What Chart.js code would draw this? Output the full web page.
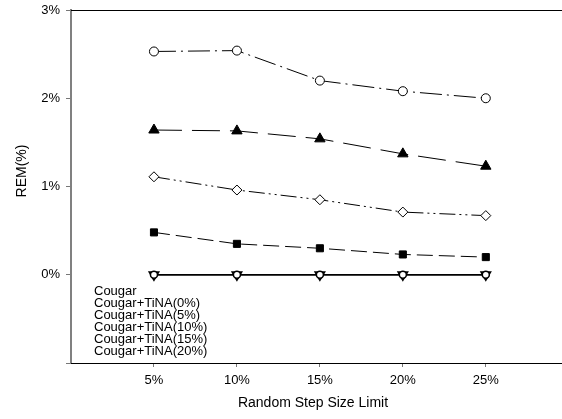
<!DOCTYPE html>
<html>
<head>
<meta charset="utf-8">
<script src="https://cdn.jsdelivr.net/npm/chart.js@4.4.0/dist/chart.umd.min.js"></script>
<style>
  html, body { margin: 0; padding: 0; background: #fff; }
  #wrap { width: 562px; height: 419px; }
</style>
</head>
<body>
<div id="wrap"><canvas id="rem-chart" width="562" height="419"></canvas></div>
<script>
// step size limits (%) and REM (%) per method
const stepLimits = [5, 10, 15, 20, 25];
const xTicks = [5, 10, 15, 20, 25];
const yTicks = [0, 1, 2, 3];

const remCougar = [0, 0, 0, 0, 0];
const remTina0 = [0, 0, 0, 0, 0];
const remTina5 = [0.48, 0.35, 0.30, 0.23, 0.20];
const remTina10 = [1.11, 0.96, 0.85, 0.71, 0.67];
const remTina15 = [1.64, 1.63, 1.54, 1.37, 1.23];
const remTina20 = [2.53, 2.54, 2.20, 2.08, 2.00];

const seriesNames = ['Cougar', 'Cougar+TiNA(0%)', 'Cougar+TiNA(5%)',
                     'Cougar+TiNA(10%)', 'Cougar+TiNA(15%)', 'Cougar+TiNA(20%)'];
const yTitle = 'REM(%)';

const FONT = "'Liberation Sans', Arial, sans-serif";

function toPoints(values) {
    return values.map((v, i) => ({ x: stepLimits[i], y: v }));
}

function series(label, values, style) {
    return Object.assign({
        label: label,
        data: toPoints(values),
        borderColor: '#000',
        borderWidth: 1,
        pointBorderColor: '#000',
        pointBorderWidth: 1,
        pointBackgroundColor: '#fff',
        tension: 0,
        fill: false,
        clip: false
    }, style);
}

// frame lines along the top and bottom, running out to the right edge
const frameLines = {
    id: 'frameLines',
    afterDraw(chart) {
        const { ctx, chartArea } = chart;
        const yTop = chart.scales.y.getPixelForValue(3);
        const yBottom = chart.scales.y.getPixelForValue(-1);
        ctx.save();
        ctx.strokeStyle = '#000';
        ctx.lineWidth = 1;
        ctx.beginPath();
        ctx.moveTo(chartArea.left, Math.round(yTop) + 0.5);
        ctx.lineTo(chart.width, Math.round(yTop) + 0.5);
        ctx.moveTo(chartArea.left, Math.round(yBottom) + 0.5);
        ctx.lineTo(chart.width, Math.round(yBottom) + 0.5);
        ctx.stroke();
        ctx.restore();
    }
};

// text-only legend in the lower left corner, plus the y title
const textLegend = {
    id: 'textLegend',
    afterDraw(chart) {
        const { ctx, chartArea } = chart;
        ctx.save();
        ctx.fillStyle = '#000';
        ctx.font = '13px ' + FONT;
        ctx.textBaseline = 'middle';
        seriesNames.forEach((name, i) => {
            ctx.fillText(name, chartArea.left + 23, 291 + i * 12);
        });

        ctx.font = '14px ' + FONT;
        ctx.textAlign = 'center';
        ctx.translate(22, 171);
        ctx.rotate(-Math.PI / 2);
        ctx.fillText(yTitle, 0, 0);
        ctx.restore();
    }
};

new Chart(document.getElementById('rem-chart'), {
    type: 'line',
    data: {
        datasets: [
            series(seriesNames[0], remCougar, { pointStyle: 'circle', pointRadius: 3.5, pointBorderWidth: 1.5, borderWidth: 1.5 }),
            series(seriesNames[1], remTina0, { pointStyle: 'triangle', rotation: 180, pointRadius: 4.5, pointBorderWidth: 2.5, borderWidth: 1.5 }),
            series(seriesNames[2], remTina5, { pointStyle: 'rect', pointRadius: 5, pointBackgroundColor: '#000', borderDash: [16, 6] }),
            series(seriesNames[3], remTina10, { pointStyle: 'rectRot', pointRadius: 5, borderDash: [16, 4, 2, 4, 2, 4] }),
            series(seriesNames[4], remTina15, { pointStyle: 'triangle', pointRadius: 6, pointBackgroundColor: '#000', borderDash: [28, 10] }),
            series(seriesNames[5], remTina20, { pointStyle: 'circle', pointRadius: 4.5, borderDash: [22, 5, 2, 5] })
        ]
    },
    options: {
        responsive: false,
        animation: false,
        devicePixelRatio: 1,
        layout: { padding: { top: 10, right: 0, left: 0, bottom: 0 } },
        plugins: {
            legend: { display: false },
            tooltip: { enabled: false }
        },
        scales: {
            x: {
                type: 'linear',
                min: 0,
                max: 29.17,
                afterBuildTicks: (scale) => { scale.ticks = xTicks.map(v => ({ value: v })); },
                afterFit: (scale) => { scale.height = 56; },
                border: { display: false },
                grid: { drawOnChartArea: false, drawTicks: true, tickLength: 4, color: '#777' },
                ticks: {
                    color: '#000',
                    padding: 6,
                    maxRotation: 0,
                    font: { family: FONT, size: 13 },
                    callback: (v) => v + '%'
                },
                title: {
                    display: true,
                    text: 'Random Step Size Limit',
                    color: '#000',
                    padding: { top: 0, bottom: 7 },
                    font: { family: FONT, size: 14 }
                }
            },
            y: {
                min: -1,
                max: 3,
                afterBuildTicks: (scale) => { scale.ticks = [-1].concat(yTicks).map(v => ({ value: v })); },
                afterFit: (scale) => { scale.width = 71; scale.paddingTop = 0; },
                border: { color: '#808080', width: 2 },
                grid: { drawOnChartArea: false, drawTicks: true, tickLength: 5, color: '#777' },
                ticks: {
                    color: '#000',
                    padding: 6,
                    font: { family: FONT, size: 13 },
                    callback: (v) => v < 0 ? '' : v + '%'
                }
            }
        }
    },
    plugins: [frameLines, textLegend]
});
</script>
</body>
</html>
